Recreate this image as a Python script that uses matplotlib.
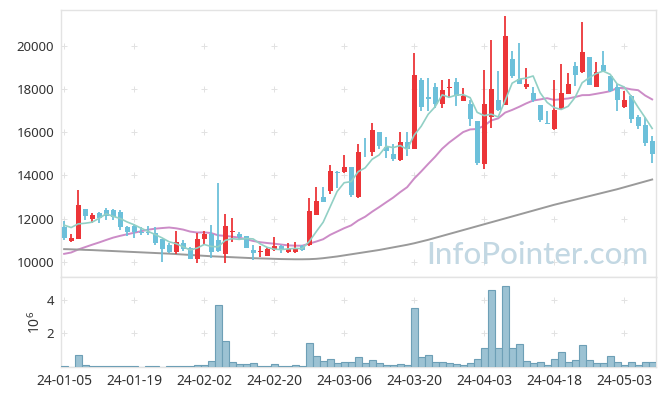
import numpy as np
import pandas as pd
import matplotlib
matplotlib.use("Agg")
import matplotlib.pyplot as plt

plt.rcParams['font.family'] = ['Noto Sans', 'DejaVu Sans']
plt.rcParams['mathtext.default'] = 'regular'

# daily prices (KRW), 24-01-05 .. 24-05-10
opens = [11590, 10980, 11080, 12450, 11990, 12250, 12407, 12407, 12315, 11590,
         11680, 11400, 11390, 11356, 11065, 10787, 10477, 10894, 10634, 10139,
         11060, 11310, 11018, 10370, 11400, 11296, 11204, 10555, 10460, 10290,
         10555, 10740, 10460, 10460, 10740, 10787, 12176, 13023, 13260, 14166,
         14140, 14370, 13023, 15090, 15060, 16018, 15290, 15000, 14690, 15555,
         15216, 18425, 17620, 18087, 17315, 18050, 18320, 17454, 17315, 16527,
         14506, 16700, 17500, 17250, 19400, 18470, 18070, 17810, 17270, 16420,
         16157, 17083, 17777, 19043, 18765, 19460, 18070, 19120, 18580, 18070,
         17160, 17655, 16682, 16343, 15600]
highs = [11898, 11280, 13330, 12460, 12250, 12316, 12500, 12440, 12376, 11666,
         11760, 11590, 11680, 11590, 11065, 10880, 11450, 11000, 10700, 11342,
         11450, 11700, 13650, 12200, 12050, 11370, 11210, 10770, 10720, 10700,
         11140, 10800, 10880, 10900, 10800, 12950, 13440, 13450, 14490, 14180,
         14940, 14370, 15450, 15725, 16420, 16018, 15770, 15450, 16018, 16018,
         19660, 18500, 18500, 18270, 18425, 18457, 18500, 18040, 17500, 16527,
         18890, 20280, 18843, 21360, 19735, 20125, 18966, 18070, 17270, 16960,
         18425, 19167, 18735, 19245, 21100, 19460, 19245, 19735, 18620, 18240,
         17885, 17730, 16800, 16700, 15800]
lows = [11020, 10910, 11060, 11950, 11820, 11820, 11944, 11944, 11480, 11210,
        11100, 11240, 11240, 10790, 9990, 10420, 10370, 10510, 10130, 9940,
        10800, 10180, 10477, 9940, 10940, 11080, 10650, 10100, 10230, 10280,
        10490, 10400, 10400, 10400, 10480, 10740, 12176, 12760, 13150, 13410,
        14106, 13020, 12950, 14830, 14907, 15200, 14800, 14680, 14645, 14907,
        15216, 16960, 17000, 17110, 17110, 17580, 17190, 17420, 16265, 14460,
        14290, 16190, 16960, 17250, 18500, 18240, 18010, 17400, 16450, 16357,
        16080, 17037, 17777, 18150, 18735, 18195, 18070, 18765, 17850, 16960,
        17110, 16420, 16160, 15350, 14570]
closes = [11125, 11110, 12640, 12130, 12176, 12020, 12143, 12068, 11620, 11375,
          11375, 11340, 11340, 10894, 10588, 10477, 10912, 10616, 10139, 11050,
          11300, 10460, 10523, 11636, 11440, 11142, 10663, 10430, 10500, 10616,
          10740, 10555, 10587, 10616, 10555, 12361, 12838, 12792, 14180, 14120,
          14370, 13100, 15090, 15060, 16111, 15370, 15106, 14770, 15555, 15216,
          18657, 17145, 17546, 17315, 17963, 18087, 17655, 17655, 16620, 14570,
          17315, 18000, 17005, 20430, 18580, 18240, 18240, 17500, 16540, 16357,
          17037, 17810, 18240, 18627, 19708, 18195, 18780, 18810, 17885, 17470,
          17500, 16620, 16265, 15495, 14985]
# closes before the window, only needed to seed the moving averages
prior_closes = [9850, 9900, 9880, 9950, 9920, 9870, 9900, 9960, 9930, 9980,
                9900, 9940, 9960, 9990, 9975, 11675, 11790, 11980, 11930]
# long moving average
ma_long = [10590, 10580, 10570, 10555, 10545, 10530, 10515, 10500, 10485, 10470,
           10455, 10440, 10425, 10410, 10395, 10380, 10360, 10340, 10320, 10300,
           10280, 10260, 10245, 10230, 10215, 10200, 10185, 10170, 10160, 10150,
           10140, 10130, 10125, 10120, 10120, 10125, 10140, 10170, 10210, 10250,
           10300, 10350, 10400, 10450, 10500, 10550, 10610, 10670, 10730, 10790,
           10860, 10940, 11020, 11110, 11200, 11290, 11380, 11470, 11560, 11650,
           11740, 11830, 11920, 12010, 12100, 12190, 12280, 12370, 12460, 12550,
           12640, 12720, 12800, 12880, 12960, 13040, 13120, 13200, 13280, 13360,
           13450, 13540, 13630, 13720, 13810]
# volume in millions of shares
volumes = [0.08, 0.02, 0.71, 0.12, 0.06, 0.06, 0.06, 0.06, 0.06, 0.06,
           0.06, 0.01, 0.05, 0.05, 0.01, 0.06, 0.06, 0.06, 0.06, 0.12,
           0.12, 0.38, 3.68, 1.56, 0.30, 0.18, 0.18, 0.24, 0.06, 0.06,
           0.18, 0.06, 0.06, 0.12, 0.06, 1.43, 0.65, 0.36, 0.48, 0.24,
           0.30, 0.30, 0.60, 0.24, 0.42, 0.24, 0.12, 0.12, 0.18, 0.12,
           3.50, 0.60, 0.71, 0.30, 0.30, 0.24, 0.18, 0.12, 0.24, 0.48,
           1.13, 4.57, 1.13, 4.81, 1.13, 1.37, 0.36, 0.24, 0.30, 0.12,
           0.48, 0.89, 0.30, 0.42, 1.31, 0.42, 0.24, 0.24, 0.65, 0.30,
           0.12, 0.30, 0.12, 0.30, 0.30]
tick_labels = ['24-01-05', '24-01-19', '24-02-02', '24-02-20', '24-03-06',
               '24-03-20', '24-04-03', '24-04-18', '24-05-03']

n = len(closes)
x = np.arange(n)
o = np.array(opens)
h = np.array(highs)
l = np.array(lows)
c = np.array(closes)

allc = pd.Series(prior_closes + closes)
ma5 = allc.rolling(5).mean().values[len(prior_closes):]
ma20 = allc.rolling(20).mean().values[len(prior_closes):]

up_col = '#ec3538'
down_col = '#6cc0da'
grid_col = '#e2e2e2'
spine_col = '#e3e3e3'

fig = plt.figure(figsize=(6.65, 3.96), dpi=100)
ax = fig.add_axes([61 / 665, 1 - 277 / 396, 595 / 665, 267 / 396])
axv = fig.add_axes([61 / 665, 1 - 367 / 396, 595 / 665, 90 / 396], sharex=ax)

# candles
up = c >= o
cols = np.where(up, up_col, down_col)
ax.vlines(x, l, h, colors=cols, linewidth=1.3, zorder=3)
body_lo = np.minimum(o, c)
body_h = np.maximum(np.abs(c - o), 25)
ax.bar(x, body_h, bottom=body_lo, width=0.72, color=cols, linewidth=0, zorder=4)

ax.plot(x, ma5, color='#92d0c5', lw=1.2, zorder=5)
ax.plot(x, ma20, color='#cc8cc7', lw=1.4, zorder=2)
ax.plot(x, ma_long, color='#9a9a9a', lw=1.4, zorder=2)

yticks = [10000, 12000, 14000, 16000, 18000, 20000]
xticks = list(range(0, n, 10))
ax.set_xlim(-0.45, n - 0.45)
ax.set_ylim(9300, 21650)
ax.set_yticks(yticks)
ax.set_yticklabels([str(v) for v in yticks])

# small "+" marks where the grid lines cross
gx, gy = np.meshgrid(xticks, yticks)
ax.plot(gx.ravel(), gy.ravel(), ls='none', marker='+', ms=4, mew=0.7,
        color=grid_col, zorder=0)

ax.text(0.988, 0.03, 'InfoPointer.com', transform=ax.transAxes,
        ha='right', va='bottom', fontsize=22.5, family='Lato',
        fontweight='medium', color='#c3d8e3', zorder=1)

# volume
axv.bar(x, volumes, width=1.0, color='#9cc2d3', edgecolor='#6d9fb6',
        linewidth=0.8, zorder=3)
axv.set_ylim(0, 5.35)
axv.set_yticks([2, 4])
axv.set_yticklabels(['2', '4'])
vx, vy = np.meshgrid(xticks, [2, 4])
axv.plot(vx.ravel(), vy.ravel(), ls='none', marker='+', ms=4, mew=0.7,
         color=grid_col, zorder=0)
axv.set_ylabel('$10^6$', fontsize=10, color='#333333', labelpad=2)

axv.set_xticks(xticks)
axv.set_xticklabels(tick_labels)
plt.setp(ax.get_xticklabels(), visible=False)

for a in (ax, axv):
    for s in a.spines.values():
        s.set_color(spine_col)
        s.set_linewidth(1.0)
    a.tick_params(length=0, labelsize=9.5, labelcolor='#333333', pad=5)
axv.tick_params(axis='x', labelsize=10)

fig.savefig('out.png', dpi=100, facecolor='white')
